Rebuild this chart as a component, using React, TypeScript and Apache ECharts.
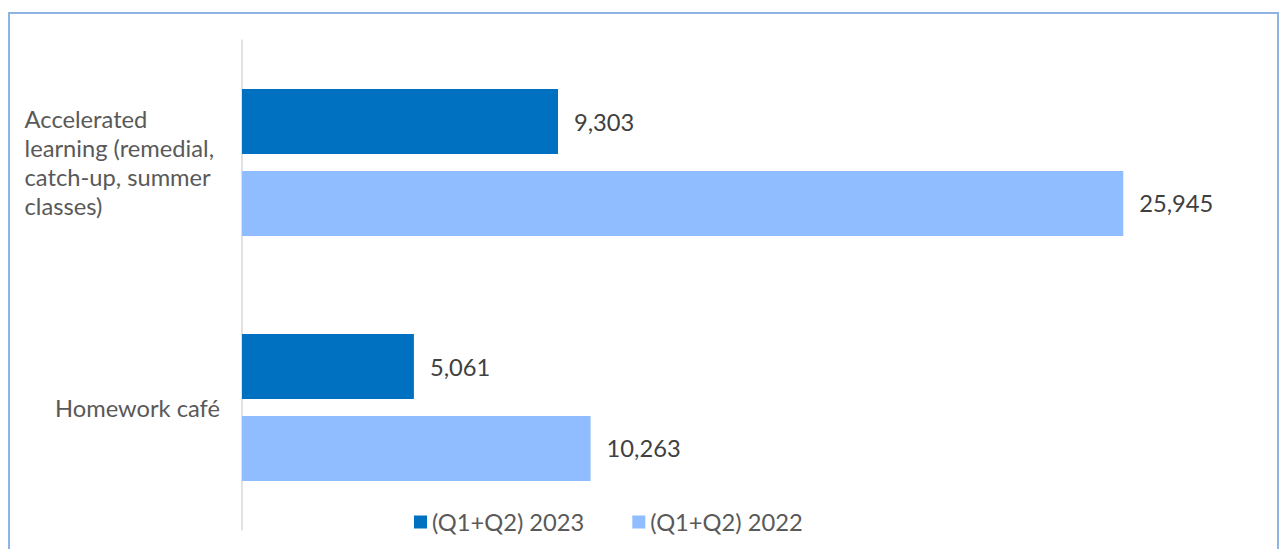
import React, { useEffect, useRef } from "react";
import * as echarts from "echarts";

const categories = [
  "Accelerated learning (remedial, catch-up, summer classes)",
  "Homework café",
];
const categoryLines: Record<string, string> = {
  "Accelerated learning (remedial, catch-up, summer classes)":
    "Accelerated\nlearning (remedial,\ncatch-up, summer\nclasses)",
  "Homework café": "Homework café",
};
const seriesNames = ["(Q1+Q2) 2023", "(Q1+Q2) 2022"];
const values2023 = [9303, 5061];
const values2022 = [25945, 10263];

const FONT = "Lato, 'Noto Sans', sans-serif";
const FS = 23.7;

export default function App() {
  const ref = useRef<HTMLDivElement>(null);
  useEffect(() => {
    if (!ref.current) return;
    const chart = echarts.init(ref.current, null, { renderer: "svg" });
    const label = {
      show: true,
      position: "right",
      distance: 16,
      fontSize: FS,
      fontFamily: FONT,
      color: "#404040",
      formatter: (p: any) => Number(p.value).toLocaleString("en-US"),
    };
    const catStyle = {
      align: "left",
      fontSize: FS,
      lineHeight: 29,
      color: "#595959",
      fontFamily: FONT,
    };
    chart.setOption({
      animation: false,
      textStyle: { fontFamily: FONT },
      grid: { left: 242, right: 22, top: 40, bottom: 19, containLabel: false },
      legend: {
        data: seriesNames,
        left: 409,
        top: 505,
        itemWidth: 13,
        itemHeight: 13,
        itemGap: 48,
        icon: "rect",
        textStyle: { fontSize: FS, color: "#595959", fontFamily: FONT },
      },
      xAxis: {
        type: "value",
        min: 0,
        max: 30000,
        show: false,
        splitLine: { show: false },
      },
      yAxis: {
        type: "category",
        data: categories,
        inverse: true,
        axisTick: { show: false },
        axisLine: { lineStyle: { color: "#D9D9D9", width: 1.5 } },
        axisLabel: {
          margin: 22,
          align: "right",
          formatter: (v: string, i: number) =>
            (i === 0 ? "{a|" : "{b|") + categoryLines[v] + "}",
          rich: {
            a: { ...catStyle, padding: [0, 6, 0, 0] },
            b: { ...catStyle },
          },
        },
      },
      series: [
        {
          name: seriesNames[0],
          type: "bar",
          data: values2023,
          itemStyle: { color: "#0070C0" },
          barCategoryGap: "40%",
          barGap: "26%",
          label,
        },
        {
          name: seriesNames[1],
          type: "bar",
          data: values2022,
          itemStyle: { color: "#8FBDFF" },
          barCategoryGap: "40%",
          barGap: "26%",
          label,
        },
      ],
    });
    return () => chart.dispose();
  }, []);
  return (
    <div
      style={{
        position: "fixed",
        left: 0,
        top: 0,
        width: 1283,
        height: 549,
        overflow: "hidden",
        background: "#fff",
      }}
    >
      <div
        style={{
          position: "absolute",
          left: 8,
          top: 12,
          width: 1267,
          height: 600,
          border: "2px solid #8DB4E2",
        }}
      />
      <div
        ref={ref}
        style={{ position: "absolute", left: 0, top: 0, width: 1283, height: 549 }}
      />
    </div>
  );
}
